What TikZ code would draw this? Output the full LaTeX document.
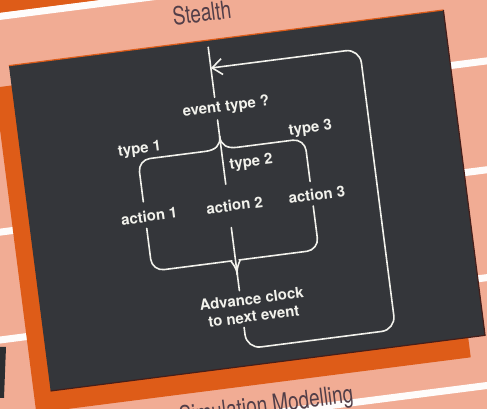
\documentclass[tikz,border=0pt]{standalone}
\usepackage{fontspec}
\setmainfont{TeX Gyre Heros}
\usetikzlibrary{arrows.meta}

\definecolor{salmon}{RGB}{241,172,148}
\definecolor{naranja}{RGB}{222,92,24}
\definecolor{pizarra}{RGB}{52,54,58}
\definecolor{tiza}{RGB}{242,242,236}
\definecolor{tinta}{RGB}{82,62,72}
\definecolor{borde}{RGB}{70,30,25}

\begin{document}
\begin{tikzpicture}[x=1pt, y=1pt,
					trazo/.style={draw=tiza, line width=1.6pt, line cap=round},
					rotulo/.style={text=tiza, font=\bfseries\fontsize{15}{17.5}\selectfont, inner sep=4pt},
					titulo/.style={text=tinta, font=\fontsize{25}{27}\selectfont, inner sep=0pt},
					raya/.style={fill=white!96!salmon}
				]
				% Parámetros de geometría
				\def\ang{7.3}    % giro de la foto
				\def\W{219}      % semiancho del tablero
				\def\H{164}      % semialto del tablero
				\def\rr{12pt}    % radio de las esquinas

				\useasboundingbox (0,0) rectangle (487,409);
				\clip (0,0) rectangle (487,409);

				% --- Fondo de la página ---
				\fill[salmon] (0,0) rectangle (487,409);
				\fill[pizarra!85!black] (0,62) -- (6,62) -- (4,11) -- (0,11) -- cycle;

				\begin{scope}[shift={(247,208.5)}, rotate=\ang, transform shape]
				% --- Rayas blancas ---
				\fill[naranja] (-400,217.5) rectangle (400,400);
				\foreach \yy in {-214,-107,0,108,214}
					\fill[raya] (-400,\yy-3.5) rectangle (400,\yy+3.5);

				% --- Sombra y tablero ---
				\fill[naranja] (-\W-17,-\H-20) rectangle (\W-17,\H-20);
				\fill[pizarra] (-\W,-\H) rectangle (\W,\H);
				\draw[naranja, line width=1.2pt] (-\W,\H) -- (\W,\H);
				\draw[borde, line width=1.2pt] (\W,\H) -- (\W,-\H) -- (-\W,-\H);

				% --- Títulos ---
				\node[titulo] (stealth) at (-21,192) {\scalebox{0.76}[1]{Stealth}};
				\node[titulo] (simmod) at (-7,-207) {\scalebox{0.76}[1]{Simulation Modelling}};

				% --- Puntos del diagrama ---
				\coordinate (top) at (-19,157);
				\coordinate (split) at (-19,67);
				\coordinate (join) at (-19,-72);
				\coordinate (back) at (131,-147);
				\coordinate (arr) at (-19,136);
				\coordinate (l) at (-103,0);
				\coordinate (r) at (65,0);

				\node[rotulo] (evt) at (-9,95) {event type ?};
				\node[rotulo] (t1) at (-100,64) {type 1};
				\node[rotulo, anchor=west] (t2) at (-17,37) {type 2};
				\node[rotulo] (t3) at (72,63) {type 3};
				\node[rotulo] (a1) at (-99,-3) {action 1};
				\node[rotulo] (a2) at (-13,-3) {action 2};
				\node[rotulo] (a3) at (70,-3) {action 3};
				\node[rotulo, align=center] (adv) at (-8,-107) {Advance clock\\to next event};

				% --- Entrada y pregunta ---
				\draw[trazo] (top) -- (evt.north -| top);
				\draw[trazo] (evt.south -| split) -- (split);

				% --- Llave superior ---
				\draw[trazo, shorten >=12pt] (split) -- (a2.north -| split);
				\draw[trazo] (split) .. controls +(0,-9) and +(10,0) .. (-35,54)
					[rounded corners=\rr] -| ([yshift=5pt]a1.north -| l);
				\draw[trazo] (split) .. controls +(0,-9) and +(-10,0) .. (-3,54)
					[rounded corners=\rr] -| ([yshift=4pt]a3.north -| r);

				% --- Llave inferior ---
				\draw[trazo] ([yshift=-2pt]a1.south -| l) [rounded corners=\rr] |- (-35,-58)
					[sharp corners] .. controls +(10,0) and +(0,9) .. (join);
				\draw[trazo] ([yshift=-1pt]a3.south -| r) [rounded corners=\rr] |- (-3,-58)
					[sharp corners] .. controls +(-10,0) and +(0,9) .. (join);
				\draw[trazo, shorten <=12pt] (a2.south -| join) -- (join);
				\draw[trazo] (join) -- (adv.north -| join);

				% --- Vuelta al principio ---
				\draw[trazo, rounded corners=14pt, -{Straight Barb[length=10pt, width=16pt]}]
					(adv.south -| join) |- (back) |- (arr);
				\end{scope}

			\end{tikzpicture}
\end{document}
